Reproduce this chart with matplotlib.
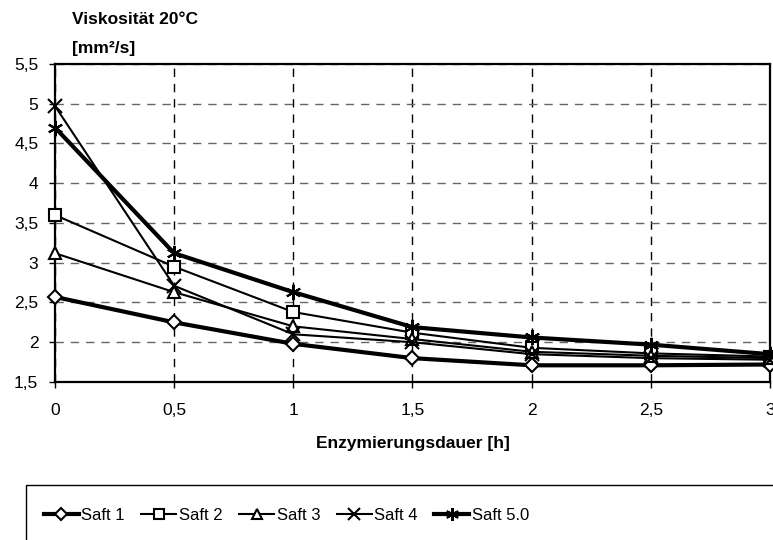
import matplotlib.pyplot as plt
from matplotlib.patches import Rectangle
from matplotlib.ticker import FuncFormatter

plt.rcParams['font.family'] = ['Liberation Sans', 'DejaVu Sans']

# Enzymierungsdauer [h]
hours = [0, 0.5, 1, 1.5, 2, 2.5, 3]

# Viskosität 20°C [mm²/s]
saft1 = [2.57, 2.25, 1.98, 1.80, 1.71, 1.71, 1.72]
saft2 = [3.60, 2.95, 2.38, 2.12, 1.93, 1.86, 1.82]
saft3 = [3.12, 2.63, 2.20, 2.04, 1.88, 1.83, 1.80]
saft4 = [4.97, 2.71, 2.10, 2.00, 1.85, 1.80, 1.78]
saft5 = [4.70, 3.12, 2.63, 2.19, 2.06, 1.97, 1.85]

series = [
    ('Saft 1', saft1, 'D', 3.0, 7),
    ('Saft 2', saft2, 's', 1.5, 9),
    ('Saft 3', saft3, '^', 1.5, 9),
    ('Saft 4', saft4, 'x', 1.5, 10),
    ('Saft 5.0', saft5, (6, 2, 0), 3.0, 11),
]

fs = 12.5

fig = plt.figure(figsize=(7.73, 5.4), dpi=100)
ax = fig.add_axes([0.0712, 0.2926, 0.9248, 0.5889])

for name, vals, mk, lw, ms in series:
    ax.plot(hours, vals, color='black', linewidth=lw, marker=mk, markersize=ms,
            markerfacecolor='white', markeredgecolor='black', markeredgewidth=1.5,
            label=name, clip_on=False, zorder=3)

ax.set_xlim(0, 3)
ax.set_ylim(1.5, 5.5)
ax.set_xticks(hours)
ax.set_yticks([1.5, 2, 2.5, 3, 3.5, 4, 4.5, 5, 5.5])
comma = FuncFormatter(lambda v, p: f'{v:g}'.replace('.', ','))
ax.xaxis.set_major_formatter(comma)
ax.yaxis.set_major_formatter(comma)
ax.tick_params(direction='out', length=4, width=1, labelsize=fs, colors='black')
ax.tick_params(axis='x', pad=11)
ax.tick_params(axis='y', pad=8)

ax.grid(True, axis='x', color='black', linestyle=(0, (6, 5)), linewidth=1)
ax.grid(True, axis='y', color='#666666', linestyle=(0, (6, 5)), linewidth=1)
ax.set_axisbelow(True)
for side in ax.spines.values():
    side.set_linewidth(1.6)

ax.set_xlabel('Enzymierungsdauer [h]', fontsize=fs, fontweight='bold', labelpad=13)

fig.text(0.093, 0.963, 'Viskosität 20°C', fontsize=fs, fontweight='bold', va='center')
fig.text(0.093, 0.911, '[mm²/s]', fontsize=fs, fontweight='bold', va='center')

# legend box running off the lower right edge
fig.patches.append(Rectangle((0.033, -0.05), 1.0, 0.152, transform=fig.transFigure,
                             facecolor='white', edgecolor='black', linewidth=1))
leg = fig.legend(loc='center left', bbox_to_anchor=(0.037, 0.046), ncol=5,
                 frameon=False, fontsize=12, handlelength=2.1, columnspacing=1.0,
                 handletextpad=0.15, markerscale=0.85)

fig.savefig('out.png', dpi=100, facecolor='white')
